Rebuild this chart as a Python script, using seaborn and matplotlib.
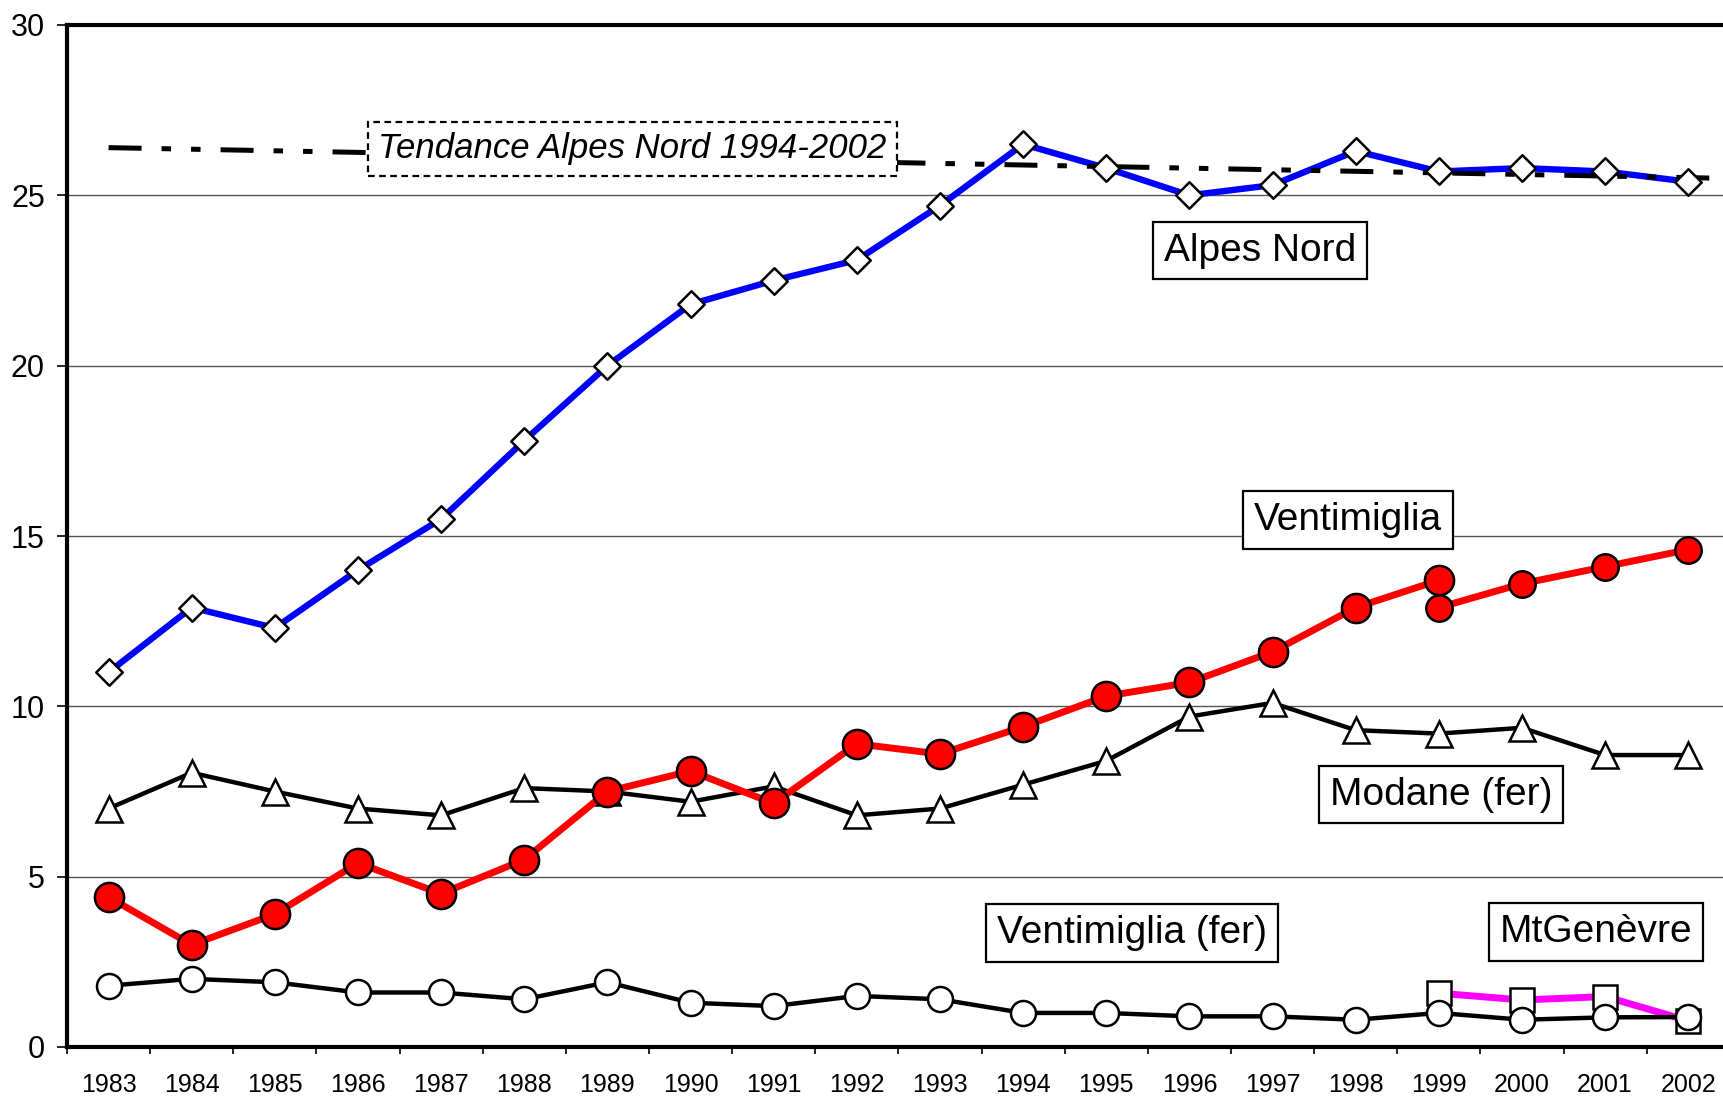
import matplotlib
matplotlib.use("Agg")
import matplotlib.pyplot as plt
from matplotlib.ticker import FixedLocator, NullFormatter
import seaborn as sns

# ---------------- data ----------------
years = list(range(1983, 2003))
alpes_nord = [11.0, 12.9, 12.3, 14.0, 15.5, 17.8, 20.0, 21.8, 22.5, 23.1,
              24.7, 26.5, 25.8, 25.0, 25.3, 26.3, 25.7, 25.8, 25.7, 25.4]
ventimiglia_years_a = list(range(1983, 2000))
ventimiglia_a = [4.4, 3.0, 3.9, 5.4, 4.5, 5.5, 7.5, 8.1, 7.15, 8.9,
                 8.6, 9.4, 10.3, 10.7, 11.6, 12.9, 13.7]
ventimiglia_years_b = [1999, 2000, 2001, 2002]
ventimiglia_b = [12.9, 13.6, 14.1, 14.6]
modane_fer = [7.0, 8.05, 7.5, 7.0, 6.8, 7.6, 7.5, 7.2, 7.65, 6.8,
              7.0, 7.7, 8.4, 9.7, 10.1, 9.3, 9.2, 9.37, 8.57, 8.57]
ventimiglia_fer = [1.8, 2.0, 1.9, 1.6, 1.6, 1.4, 1.9, 1.3, 1.2, 1.5,
                   1.4, 1.0, 1.0, 0.9, 0.9, 0.8, 1.0, 0.8, 0.87, 0.88]
mtgenevre_years = [1999, 2000, 2001, 2002]
mtgenevre = [1.58, 1.38, 1.48, 0.77]
trend_years = [1983, 2002.43]
trend_values = [26.4, 25.5]

labels = ["Alpes Nord", "Ventimiglia", "Modane (fer)", "Ventimiglia (fer)",
          "MtGenèvre"]
label_years = [1996.85, 1997.91, 1999.03, 1995.31, 2000.89]
label_values = [23.38, 15.48, 7.41, 3.35, 3.38]
trend_label = "Tendance Alpes Nord 1994-2002"
trend_label_pos = (1989.30, 26.37)
yticks = [0, 5, 10, 15, 20, 25, 30]

# ---------------- style ----------------
sns.set_style("white")
plt.rcParams["font.family"] = ["Liberation Sans", "DejaVu Sans"]
plt.rcParams["text.color"] = "black"
plt.rcParams["xtick.color"] = "black"
plt.rcParams["ytick.color"] = "black"
plt.rcParams["axes.labelcolor"] = "black"

fig = plt.figure(figsize=(17.24, 10.98), dpi=100)
ax = fig.add_axes([67 / 1724, 51 / 1098, 1 - 67 / 1724, 1022 / 1098])

# grid lines
for v in yticks[1:-1]:
    ax.axhline(v, color="#555555", lw=1.0, zorder=0.5)

# MtGenèvre (behind Ventimiglia fer)
sns.lineplot(x=mtgenevre_years, y=mtgenevre, ax=ax, color="#ff00ff", lw=5.0,
             marker="s", markersize=17, markerfacecolor="white",
             markeredgecolor="black", markeredgewidth=1.8, zorder=2)

# Ventimiglia (fer)
sns.lineplot(x=years, y=ventimiglia_fer, ax=ax, color="black", lw=3.2,
             marker="o", markersize=18, markerfacecolor="white",
             markeredgecolor="black", markeredgewidth=1.8, zorder=2.5)

# Modane (fer)
sns.lineplot(x=years, y=modane_fer, ax=ax, color="black", lw=3.2,
             marker="^", markersize=18.5, markerfacecolor="white",
             markeredgecolor="black", markeredgewidth=1.8, zorder=3)

# Ventimiglia (road)
sns.lineplot(x=ventimiglia_years_a, y=ventimiglia_a, ax=ax, color="#ff0000",
             lw=5.0, marker="o", markersize=21, markerfacecolor="#ff0000",
             markeredgecolor="black", markeredgewidth=1.8, zorder=3.5)
sns.lineplot(x=ventimiglia_years_b, y=ventimiglia_b, ax=ax, color="#ff0000",
             lw=5.0, marker="o", markersize=19, markerfacecolor="#ff0000",
             markeredgecolor="black", markeredgewidth=1.8, zorder=3.6)

# Alpes Nord line, trend, then markers
sns.lineplot(x=years, y=alpes_nord, ax=ax, color="#0000ff", lw=4.6, zorder=4)
sns.lineplot(x=trend_years, y=trend_values, ax=ax, color="black", lw=3.6,
             linestyle=(0, (6.6, 4.0, 1.9, 4.0, 1.9, 4.0)), zorder=4.5)
sns.scatterplot(x=years, y=alpes_nord, ax=ax, marker="D", s=13.5 ** 2,
                color="white", edgecolor="black", linewidth=1.8, zorder=5)

# text boxes
for txt, xx, yy in zip(labels, label_years, label_values):
    ax.text(xx, yy, txt, fontsize=28, ha="center", va="center", zorder=10,
            color="black",
            bbox=dict(boxstyle="square,pad=0.28", fc="white", ec="black",
                      lw=1.6))
ax.text(trend_label_pos[0], trend_label_pos[1], trend_label,
        fontsize=25, style="italic", ha="center", va="center", zorder=10,
        color="black",
        bbox=dict(boxstyle="square,pad=0.3", fc="white", ec="black",
                  lw=1.6, ls=(0, (3, 2))))

# axes
ax.set_xlim(1982.5, 2002.43)
ax.set_ylim(0, 30)
ax.set_xlabel("")
ax.set_ylabel("")
ax.set_yticks(yticks)
ax.set_yticklabels([str(v) for v in yticks])
ax.xaxis.set_major_locator(FixedLocator([y - 0.5 for y in years]))
ax.xaxis.set_major_formatter(NullFormatter())
ax.xaxis.set_minor_locator(FixedLocator(years))
ax.set_xticklabels([str(y) for y in years], minor=True)
ax.tick_params(axis="x", which="major", length=5, width=1.2, direction="out",
               bottom=True, color="black")
ax.tick_params(axis="x", which="minor", length=0, pad=19, labelsize=18,
               bottom=True, labelcolor="black")
ax.tick_params(axis="y", which="major", length=7, width=1.2, direction="out",
               left=True, pad=9, labelsize=22, color="black",
               labelcolor="black")

for side in ["left", "bottom", "top"]:
    ax.spines[side].set_visible(True)
    ax.spines[side].set_linewidth(3.0)
    ax.spines[side].set_color("black")
ax.spines["right"].set_visible(False)
if ax.get_legend() is not None:
    ax.get_legend().remove()

fig.savefig("out.png", dpi=100)
